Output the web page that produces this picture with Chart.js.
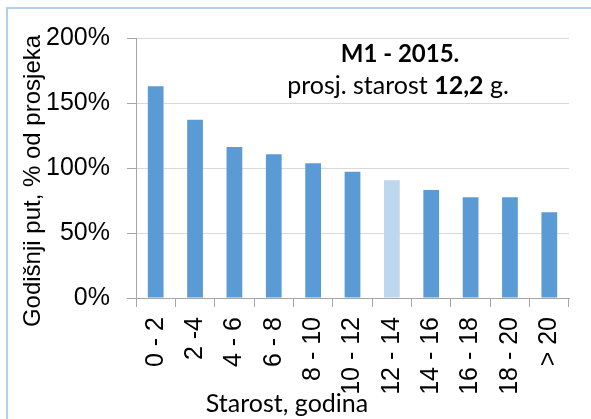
<!DOCTYPE html>
<html>
<head>
<meta charset="utf-8">
<script src="https://cdn.jsdelivr.net/npm/chart.js@4"></script>
<style>
  body { margin: 0; background: #fff; }
  #wrap { position: relative; width: 591px; height: 419px; }
  #frame { position: absolute; left: 6px; top: 7px; right: 0; bottom: 0;
           border-top: 2px solid #b4cfec; border-left: 2px solid #b4cfec; }
  canvas { position: absolute; left: 0; top: 0; }
</style>
</head>
<body>
<div id="wrap">
  <div id="frame"></div>
  <canvas id="chart" width="591" height="419"></canvas>
</div>
<script>
// age groups (years) and annual mileage as % of the average
const categories = ['0 - 2', '2 -4', '4 - 6', '6 - 8', '8 - 10', '10 - 12', '12 - 14', '14 - 16', '16 - 18', '18 - 20', '> 20'];
const values = [162.8, 137.2, 116.2, 110.5, 103.6, 97.2, 90.5, 83, 77.5, 77.5, 66];
const highlightIndex = 6; // average age 12,2 falls here
const yTicks = [0, 50, 100, 150, 200];

const barColors = values.map((v, i) => i === highlightIndex ? '#bdd7ee' : '#5b9bd5');

const tickFont = { family: "'Liberation Sans Narrow', 'Arial Narrow', 'Liberation Sans', sans-serif", size: 25 };

// titles drawn by hand so they sit where Excel put them
const textPlugin = {
  id: 'texts',
  afterDraw(chart) {
    const ctx = chart.ctx;
    ctx.save();
    ctx.fillStyle = '#000';
    ctx.textBaseline = 'alphabetic';

    // y title
    ctx.save();
    ctx.translate(40, 181);
    ctx.rotate(-Math.PI / 2);
    ctx.textAlign = 'center';
    ctx.font = "24px 'Liberation Sans', Arial, sans-serif";
    ctx.fillText('Godišnji put, % od prosjeka', 0, 0);
    ctx.restore();

    // x title
    ctx.textAlign = 'center';
    ctx.font = "25px Lato, sans-serif";
    ctx.fillText('Starost, godina', 287, 412);

    // chart title, line 1
    ctx.font = "bold 24px Lato, sans-serif";
    ctx.fillText('M1 - 2015.', 400, 62);

    // line 2 with bold number
    const parts = [
      { t: 'prosj. starost ', f: "25px Lato, sans-serif" },
      { t: '12,2', f: "bold 25px Lato, sans-serif" },
      { t: ' g.', f: "25px Lato, sans-serif" }
    ];
    let total = 0;
    parts.forEach(p => { ctx.font = p.f; p.w = ctx.measureText(p.t).width; total += p.w; });
    let x = 398 - total / 2;
    ctx.textAlign = 'left';
    parts.forEach(p => { ctx.font = p.f; ctx.fillText(p.t, x, 94); x += p.w; });
    ctx.restore();
  }
};

new Chart(document.getElementById('chart'), {
  type: 'bar',
  data: {
    labels: categories,
    datasets: [{
      data: values,
      backgroundColor: barColors,
      barPercentage: 0.4,
      categoryPercentage: 1
    }]
  },
  options: {
    responsive: false,
    animation: false,
    layout: { padding: { left: 0, right: 22, top: 38, bottom: 0 } },
    plugins: {
      legend: { display: false },
      tooltip: { enabled: false }
    },
    scales: {
      x: {
        grid: { offset: true, drawOnChartArea: false, drawTicks: true, tickLength: 9, color: '#a6a6a6' },
        border: { color: '#a6a6a6', width: 1 },
        ticks: { color: '#000', font: tickFont, minRotation: 90, maxRotation: 90, padding: 10, autoSkip: false },
        afterFit(scale) { scale.height = 121; }
      },
      y: {
        min: 0,
        max: 200,
        afterBuildTicks(scale) { scale.ticks = yTicks.map(v => ({ value: v })); },
        grid: { color: '#d9d9d9', tickColor: '#a6a6a6', tickLength: 9 },
        border: { color: '#a6a6a6', width: 1 },
        ticks: { color: '#000', font: tickFont, padding: 17, callback: v => v + '%' },
        afterFit(scale) { scale.width = 136; }
      }
    }
  },
  plugins: [textPlugin]
});
</script>
</body>
</html>
